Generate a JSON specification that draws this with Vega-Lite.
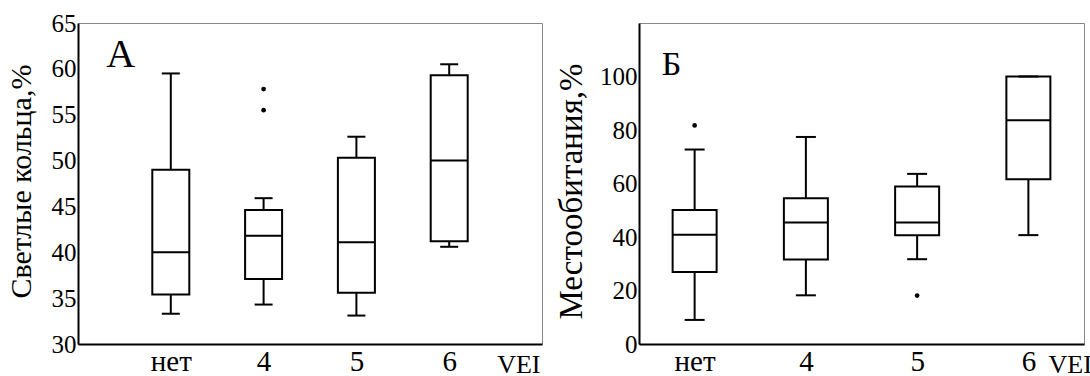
{
  "$schema": "https://vega.github.io/schema/vega-lite/v6.json",
  "background": "white",
  "padding": {"left": 5, "top": 10, "right": 0, "bottom": 0},
  "spacing": 12,
  "datasets": {
    "boxA": [
      {"cat": "нет", "lo": 33.3, "q1": 35.4, "med": 40.0, "q3": 49.0, "hi": 59.5},
      {"cat": "4", "lo": 34.3, "q1": 37.1, "med": 41.8, "q3": 44.6, "hi": 45.9},
      {"cat": "5", "lo": 33.1, "q1": 35.6, "med": 41.1, "q3": 50.3, "hi": 52.6},
      {"cat": "6", "lo": 40.6, "q1": 41.2, "med": 50.0, "q3": 59.3, "hi": 60.5}
    ],
    "outA": [
      {"cat": "4", "v": 57.8},
      {"cat": "4", "v": 55.5}
    ],
    "boxB": [
      {"cat": "нет", "lo": 9.0, "q1": 26.9, "med": 40.8, "q3": 50.1, "hi": 72.7},
      {"cat": "4", "lo": 18.2, "q1": 31.6, "med": 45.4, "q3": 54.5, "hi": 77.4},
      {"cat": "5", "lo": 31.7, "q1": 40.7, "med": 45.4, "q3": 58.9, "hi": 63.6},
      {"cat": "6", "lo": 40.7, "q1": 61.6, "med": 83.6, "q3": 100, "hi": 100}
    ],
    "outB": [
      {"cat": "нет", "v": 81.7},
      {"cat": "5", "v": 18.1}
    ],
    "labA": [{"panel": "А"}],
    "labB": [{"panel": "Б"}]
  },
  "config": {
    "font": "Liberation Serif",
    "view": {"stroke": "#888888", "strokeWidth": 1},
    "axis": {
      "labelFont": "Liberation Serif",
      "titleFont": "Liberation Serif",
      "labelColor": "black",
      "titleColor": "black",
      "domainColor": "black",
      "domainWidth": 2,
      "ticks": false,
      "grid": false,
      "titleFontWeight": "normal"
    },
    "text": {"font": "Liberation Serif"}
  },
  "hconcat": [
    {
      "width": 464,
      "height": 321,
      "layer": [
        {
          "data": {"name": "boxA"},
          "mark": {"type": "rule", "strokeWidth": 2, "color": "black"},
          "encoding": {
            "x": {"field": "cat", "type": "ordinal", "sort": ["нет", "4", "5", "6"], "scale": {"type": "point", "padding": 1},
                  "axis": {"labelAngle": 0, "labelFontSize": 29, "labelPadding": 3, "title": "VEI", "titleFontSize": 26, "titleAnchor": "end", "titleAlign": "right", "titleBaseline": "alphabetic", "titleX": 462, "titleY": 28}},
            "y": {"field": "lo", "type": "quantitative", "scale": {"domain": [30, 65], "nice": false, "zero": false},
                  "axis": {"values": [30, 35, 40, 45, 50, 55, 60, 65], "labelFontSize": 25, "labelPadding": 2, "title": "Светлые кольца,%", "titleFontSize": 30, "titlePadding": 15, "titleY": 158}},
            "y2": {"field": "hi"}
          }
        },
        {
          "data": {"name": "boxA"},
          "mark": {"type": "bar", "width": 37, "fill": "white", "stroke": "black", "strokeWidth": 2},
          "encoding": {
            "x": {"field": "cat", "type": "ordinal", "sort": ["нет", "4", "5", "6"]},
            "y": {"field": "q1", "type": "quantitative"},
            "y2": {"field": "q3"}
          }
        },
        {
          "data": {"name": "boxA"},
          "mark": {"type": "tick", "size": 37, "thickness": 2, "color": "black", "opacity": 1},
          "encoding": {
            "x": {"field": "cat", "type": "ordinal", "sort": ["нет", "4", "5", "6"]},
            "y": {"field": "med", "type": "quantitative"}
          }
        },
        {
          "data": {"name": "boxA"},
          "mark": {"type": "tick", "size": 18, "thickness": 2, "color": "black", "opacity": 1},
          "encoding": {
            "x": {"field": "cat", "type": "ordinal", "sort": ["нет", "4", "5", "6"]},
            "y": {"field": "lo", "type": "quantitative"}
          }
        },
        {
          "data": {"name": "boxA"},
          "mark": {"type": "tick", "size": 18, "thickness": 2, "color": "black", "opacity": 1},
          "encoding": {
            "x": {"field": "cat", "type": "ordinal", "sort": ["нет", "4", "5", "6"]},
            "y": {"field": "hi", "type": "quantitative"}
          }
        },
        {
          "data": {"name": "outA"},
          "mark": {"type": "point", "filled": true, "size": 22, "color": "black", "opacity": 1},
          "encoding": {
            "x": {"field": "cat", "type": "ordinal", "sort": ["нет", "4", "5", "6"]},
            "y": {"field": "v", "type": "quantitative"}
          }
        },
        {
          "data": {"name": "labA"},
          "mark": {"type": "text", "fontSize": 40, "baseline": "alphabetic", "align": "center", "dx": -50, "color": "black"},
          "encoding": {
            "x": {"datum": "нет"},
            "y": {"datum": 60.2},
            "text": {"field": "panel"}
          }
        }
      ]
    },
    {
      "width": 445,
      "height": 321,
      "layer": [
        {
          "data": {"name": "boxB"},
          "mark": {"type": "rule", "strokeWidth": 2, "color": "black"},
          "encoding": {
            "x": {"field": "cat", "type": "ordinal", "sort": ["нет", "4", "5", "6"], "scale": {"type": "point", "padding": 0.5},
                  "axis": {"labelAngle": 0, "labelFontSize": 29, "labelPadding": 3, "title": "VEI", "titleFontSize": 26, "titleAnchor": "start", "titleAlign": "left", "titleBaseline": "alphabetic", "titleX": 409, "titleY": 28}},
            "y": {"field": "lo", "type": "quantitative", "scale": {"domain": [0, 120], "nice": false},
                  "axis": {"values": [0, 20, 40, 60, 80, 100], "labelFontSize": 25, "labelPadding": 2, "title": "Местообитания,%", "titleFontSize": 33, "titlePadding": 11, "titleY": 168}},
            "y2": {"field": "hi"}
          }
        },
        {
          "data": {"name": "boxB"},
          "mark": {"type": "bar", "width": 44, "fill": "white", "stroke": "black", "strokeWidth": 2},
          "encoding": {
            "x": {"field": "cat", "type": "ordinal", "sort": ["нет", "4", "5", "6"]},
            "y": {"field": "q1", "type": "quantitative"},
            "y2": {"field": "q3"}
          }
        },
        {
          "data": {"name": "boxB"},
          "mark": {"type": "tick", "size": 44, "thickness": 2, "color": "black", "opacity": 1},
          "encoding": {
            "x": {"field": "cat", "type": "ordinal", "sort": ["нет", "4", "5", "6"]},
            "y": {"field": "med", "type": "quantitative"}
          }
        },
        {
          "data": {"name": "boxB"},
          "mark": {"type": "tick", "size": 20, "thickness": 2, "color": "black", "opacity": 1},
          "encoding": {
            "x": {"field": "cat", "type": "ordinal", "sort": ["нет", "4", "5", "6"]},
            "y": {"field": "lo", "type": "quantitative"}
          }
        },
        {
          "data": {"name": "boxB"},
          "mark": {"type": "tick", "size": 20, "thickness": 2, "color": "black", "opacity": 1},
          "encoding": {
            "x": {"field": "cat", "type": "ordinal", "sort": ["нет", "4", "5", "6"]},
            "y": {"field": "hi", "type": "quantitative"}
          }
        },
        {
          "data": {"name": "outB"},
          "mark": {"type": "point", "filled": true, "size": 22, "color": "black", "opacity": 1},
          "encoding": {
            "x": {"field": "cat", "type": "ordinal", "sort": ["нет", "4", "5", "6"]},
            "y": {"field": "v", "type": "quantitative"}
          }
        },
        {
          "data": {"name": "labB"},
          "mark": {"type": "text", "fontSize": 34, "baseline": "alphabetic", "align": "center", "dx": -23, "color": "black"},
          "encoding": {
            "x": {"datum": "нет"},
            "y": {"datum": 100.6},
            "text": {"field": "panel"}
          }
        }
      ]
    }
  ]
}
